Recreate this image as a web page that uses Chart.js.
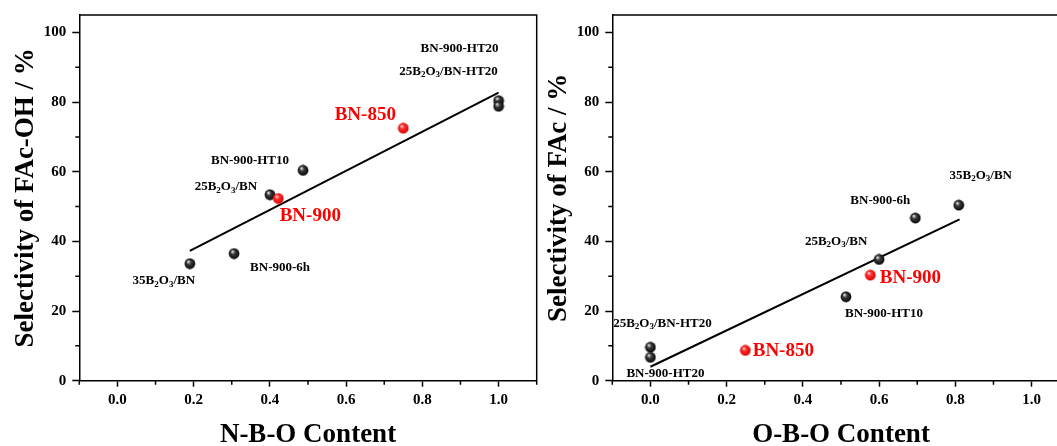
<!DOCTYPE html>
<html>
<head>
<meta charset="utf-8">
<script src="https://cdn.jsdelivr.net/npm/chart.js@4/dist/chart.umd.min.js"></script>
<style>
html,body{margin:0;padding:0;background:#fff;overflow:hidden;width:1057px;height:446px;}
.wrap{position:absolute;top:0;width:545px;height:446px;}
#w1{left:0;}
#w2{left:533px;}
</style>
</head>
<body>
<div class="wrap" id="w1"><canvas id="c1" width="545" height="446"></canvas></div>
<div class="wrap" id="w2"><canvas id="c2" width="545" height="446"></canvas></div>
<script>
// ---------- tick labels ----------
const xMajorTicks = [0.0, 0.2, 0.4, 0.6, 0.8, 1.0];
const xMinorTicks = [-0.1, 0.1, 0.3, 0.5, 0.7, 0.9, 1.1];
const yMajorTicks = [0, 20, 40, 60, 80, 100];
const yMinorTicks = [10, 30, 50, 70, 90];

// ---------- left panel: N-B-O content vs FAc-OH selectivity ----------
const nboSamples     = ['35B₂O₃/BN', 'BN-900-6h', '25B₂O₃/BN', 'BN-900', 'BN-900-HT10', 'BN-850', 'BN-900-HT20', '25B₂O₃/BN-HT20'];
const nboContent     = [0.19, 0.306, 0.40, 0.422, 0.487, 0.75, 1.0, 1.0];
const nboSelectivity = [33.6, 36.5, 53.4, 52.3, 60.4, 72.5, 80.4, 78.8];
const nboFitX = [0.19, 1.0];
const nboFitY = [37.3, 82.7];

// ---------- right panel: O-B-O content vs FAc selectivity ----------
const oboSamples     = ['25B₂O₃/BN-HT20', 'BN-900-HT20', 'BN-850', 'BN-900-HT10', 'BN-900', '25B₂O₃/BN', 'BN-900-6h', '35B₂O₃/BN'];
const oboContent     = [0.0, 0.0, 0.249, 0.513, 0.577, 0.600, 0.695, 0.809];
const oboSelectivity = [9.6, 6.7, 8.7, 24.1, 30.3, 34.8, 46.7, 50.4];
const oboFitX = [0.0, 0.811];
const oboFitY = [4.0, 46.3];

const highlighted = ['BN-900', 'BN-850'];

// ---------- styles (label placement relative to its point, px) ----------
const nboLabelOffsets = {
  '35B₂O₃/BN': [-26, 17], 'BN-900-6h': [46, 14], '25B₂O₃/BN': [-44, -8], 'BN-900': [32, 18],
  'BN-900-HT10': [-53, -10], 'BN-850': [-38, -13], 'BN-900-HT20': [-39, -52], '25B₂O₃/BN-HT20': [-50, -35]
};
const oboLabelOffsets = {
  '25B₂O₃/BN-HT20': [12, -24], 'BN-900-HT20': [15, 16], 'BN-850': [38, 1], 'BN-900-HT10': [38, 17],
  'BN-900': [40, 3], '25B₂O₃/BN': [-43, -18], 'BN-900-6h': [-35, -17], '35B₂O₃/BN': [22, -30]
};

const FONT = "'Liberation Serif', 'Times New Roman', serif";

function sphere(hi, mid, base) {
  const c = document.createElement('canvas');
  c.width = c.height = 12;
  const g = c.getContext('2d');
  const gr = g.createRadialGradient(4.3, 3.8, 0.3, 6, 6, 6);
  gr.addColorStop(0, hi);
  gr.addColorStop(0.35, mid);
  gr.addColorStop(1, base);
  g.fillStyle = gr;
  g.beginPath();
  g.arc(6, 6, 5.4, 0, Math.PI * 2);
  g.fill();
  return c;
}
const blackBall = sphere('#e8e8e8', '#3a3a3a', '#000000');
const redBall = sphere('#ffd6d6', '#ff2a2a', '#d40000');

const SUBS = {'₀':'0','₁':'1','₂':'2','₃':'3','₄':'4','₅':'5','₆':'6','₇':'7','₈':'8','₉':'9'};
function drawRichText(ctx, text, cx, cy, size, color) {
  const parts = [];
  for (const ch of text) {
    const sub = SUBS[ch] !== undefined;
    const c = sub ? SUBS[ch] : ch;
    if (parts.length && parts[parts.length - 1].sub === sub) parts[parts.length - 1].t += c;
    else parts.push({t: c, sub});
  }
  const mainFont = 'bold ' + size + 'px ' + FONT;
  const subFont = 'bold ' + Math.round(size * 0.68) + 'px ' + FONT;
  let total = 0;
  parts.forEach(p => { ctx.font = p.sub ? subFont : mainFont; p.w = ctx.measureText(p.t).width; total += p.w; });
  let x = cx - total / 2;
  ctx.fillStyle = color;
  ctx.textBaseline = 'middle';
  ctx.textAlign = 'left';
  parts.forEach(p => {
    ctx.font = p.sub ? subFont : mainFont;
    ctx.fillText(p.t, x, p.sub ? cy + size * 0.28 : cy);
    x += p.w;
  });
}

const framePlugin = {
  id: 'frameAndMinor',
  afterDraw(chart) {
    const {ctx, chartArea: a, scales: {x, y}} = chart;
    ctx.save();
    ctx.strokeStyle = '#000';
    ctx.lineWidth = 1.5;
    ctx.beginPath();
    xMinorTicks.forEach(v => { const px = x.getPixelForValue(v); ctx.moveTo(px, a.bottom); ctx.lineTo(px, a.bottom + 4); });
    yMinorTicks.forEach(v => { const py = y.getPixelForValue(v); ctx.moveTo(a.left, py); ctx.lineTo(a.left - 4, py); });
    ctx.moveTo(a.left, a.top); ctx.lineTo(a.right, a.top); ctx.lineTo(a.right, a.bottom);
    ctx.stroke();
    ctx.restore();
  }
};

const labelPlugin = {
  id: 'pointLabels',
  afterDatasetsDraw(chart, args, opts) {
    const {ctx, scales: {x, y}} = chart;
    ctx.save();
    opts.names.forEach((name, i) => {
      const off = opts.offsets[name] || [0, 0];
      const px = x.getPixelForValue(opts.xs[i]) + off[0];
      const py = y.getPixelForValue(opts.ys[i]) + off[1];
      const hl = highlighted.includes(name);
      drawRichText(ctx, name, px, py, hl ? 19 : 13, hl ? '#ff0000' : '#000');
    });
    ctx.restore();
  }
};

function makeChart(id, names, xs, ys, fitX, fitY, xTitle, yTitle, offsets) {
  const pts = names.map((n, i) => ({x: xs[i], y: ys[i]}));
  const blackPts = pts.filter((p, i) => !highlighted.includes(names[i]));
  const redPts = pts.filter((p, i) => highlighted.includes(names[i]));
  const fit = fitX.map((v, i) => ({x: v, y: fitY[i]}));
  const tickFont = {family: FONT, size: 15, weight: 'bold'};
  return new Chart(document.getElementById(id), {
    type: 'scatter',
    data: {
      datasets: [
        {data: blackPts, pointStyle: blackBall, order: 1},
        {data: redPts, pointStyle: redBall, order: 0},
        {type: 'line', data: fit, borderColor: '#000', borderWidth: 2, pointRadius: 0, fill: false, order: 2}
      ]
    },
    options: {
      responsive: false,
      animation: false,
      events: [],
      layout: {padding: {top: 14, right: 8.3, left: 0, bottom: 0}},
      plugins: {
        legend: {display: false},
        tooltip: {enabled: false},
        pointLabels: {names, xs, ys, offsets}
      },
      scales: {
        x: {
          type: 'linear', min: -0.1, max: 1.1,
          afterBuildTicks: s => { s.ticks = xMajorTicks.map(v => ({value: v})); },
          afterFit: s => { s.height = 65.3; },
          ticks: {callback: v => Number(v).toFixed(1), font: tickFont, color: '#000', padding: 4, maxRotation: 0, autoSkip: false},
          grid: {drawOnChartArea: false, drawTicks: true, tickLength: 6, tickWidth: 1.5, tickColor: '#000'},
          border: {display: true, color: '#000', width: 1.5},
          title: {display: true, text: xTitle, color: '#000', font: {family: FONT, size: 27, weight: 'bold', lineHeight: 0.78}, padding: {top: 0, bottom: 0}}
        },
        y: {
          type: 'linear', min: 0, max: 105,
          afterBuildTicks: s => { s.ticks = yMajorTicks.map(v => ({value: v})); },
          afterFit: s => { s.width = 79.3; },
          ticks: {font: tickFont, color: '#000', padding: 6, autoSkip: false},
          grid: {drawOnChartArea: false, drawTicks: true, tickLength: 7, tickWidth: 1.5, tickColor: '#000'},
          border: {display: true, color: '#000', width: 1.5},
          title: {display: true, text: yTitle, color: '#000', font: {family: FONT, size: 27, weight: 'bold', lineHeight: 1}, padding: {top: 13, bottom: 0}}
        }
      }
    },
    plugins: [framePlugin, labelPlugin]
  });
}

makeChart('c1', nboSamples, nboContent, nboSelectivity, nboFitX, nboFitY, 'N-B-O Content', 'Selectivity of FAc-OH / %', nboLabelOffsets);
makeChart('c2', oboSamples, oboContent, oboSelectivity, oboFitX, oboFitY, 'O-B-O Content', 'Selectivity of FAc / %', oboLabelOffsets);
</script>
</body>
</html>
